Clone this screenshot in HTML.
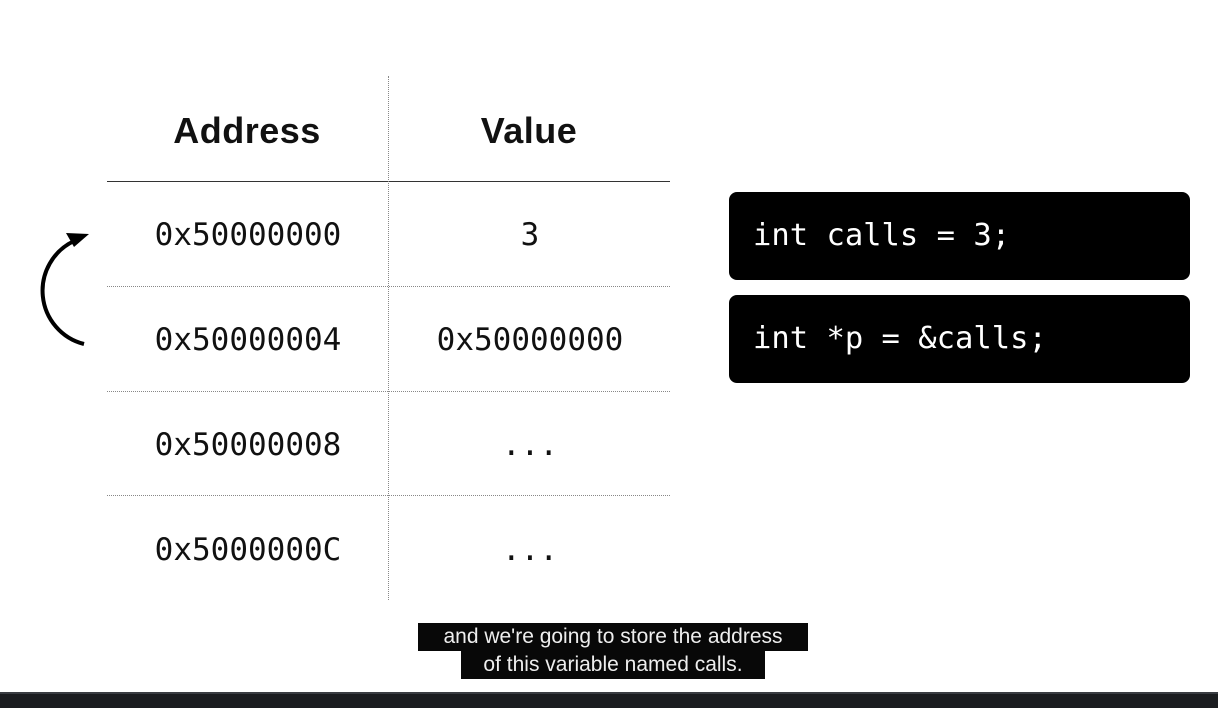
<!DOCTYPE html>
<html><head><style>
body{margin:0;width:1218px;height:708px;background:#fff;position:relative;overflow:hidden;font-family:"Liberation Sans",sans-serif}
.h{position:absolute;top:110px;font-weight:bold;font-size:36px;color:#111;text-align:center;width:280px;letter-spacing:0.5px}
.m{position:absolute;font-family:"DejaVu Sans Mono","Liberation Mono",monospace;font-size:31px;color:#111;text-align:center;width:282px;line-height:40px}
.dl{position:absolute;left:107px;width:563px;border-top:1px dotted #888}
.code{position:absolute;left:729px;width:461px;height:88px;background:#000;border-radius:8px;color:#fff;font-family:"DejaVu Sans Mono","Liberation Mono",monospace;font-size:30.5px;line-height:88px;padding-left:24px;box-sizing:border-box}
.cap{position:absolute;background:#080808;color:#eee;font-size:21px;line-height:28px;text-align:center}
</style></head><body>
<div class="h" style="left:107px">Address</div>
<div class="h" style="left:389px">Value</div>
<div style="position:absolute;left:107px;top:181px;width:563px;border-top:1px solid #333"></div>
<div class="dl" style="top:286px"></div>
<div class="dl" style="top:391px"></div>
<div class="dl" style="top:495px"></div>
<div style="position:absolute;left:388px;top:76px;height:524px;border-left:1px dotted #888"></div>
<div class="m" style="left:107px;top:215px">0x50000000</div>
<div class="m" style="left:389px;top:215px">3</div>
<div class="m" style="left:107px;top:320px">0x50000004</div>
<div class="m" style="left:389px;top:320px">0x50000000</div>
<div class="m" style="left:107px;top:425px">0x50000008</div>
<div class="m" style="left:389px;top:425px">...</div>
<div class="m" style="left:107px;top:530px">0x5000000C</div>
<div class="m" style="left:389px;top:530px">...</div>
<svg style="position:absolute;left:0;top:0" width="120" height="380">
<path d="M84 344 A55 55 0 0 1 74 241" fill="none" stroke="#000" stroke-width="4"/>
<polygon points="89,234 66,233 74,247" fill="#000"/>
</svg>
<div class="code" style="top:192px">int calls = 3;</div>
<div class="code" style="top:295px">int *p = &amp;calls;</div>
<div class="cap" style="left:418px;top:623px;width:390px">and we're going to store the address</div>
<div class="cap" style="left:461px;top:651px;width:304px">of this variable named calls.</div>
<div style="position:absolute;left:0;top:692px;width:1218px;height:16px;background:#1b1d20;border-top:2px solid #3a3d42;box-sizing:border-box"></div>
</body></html>
